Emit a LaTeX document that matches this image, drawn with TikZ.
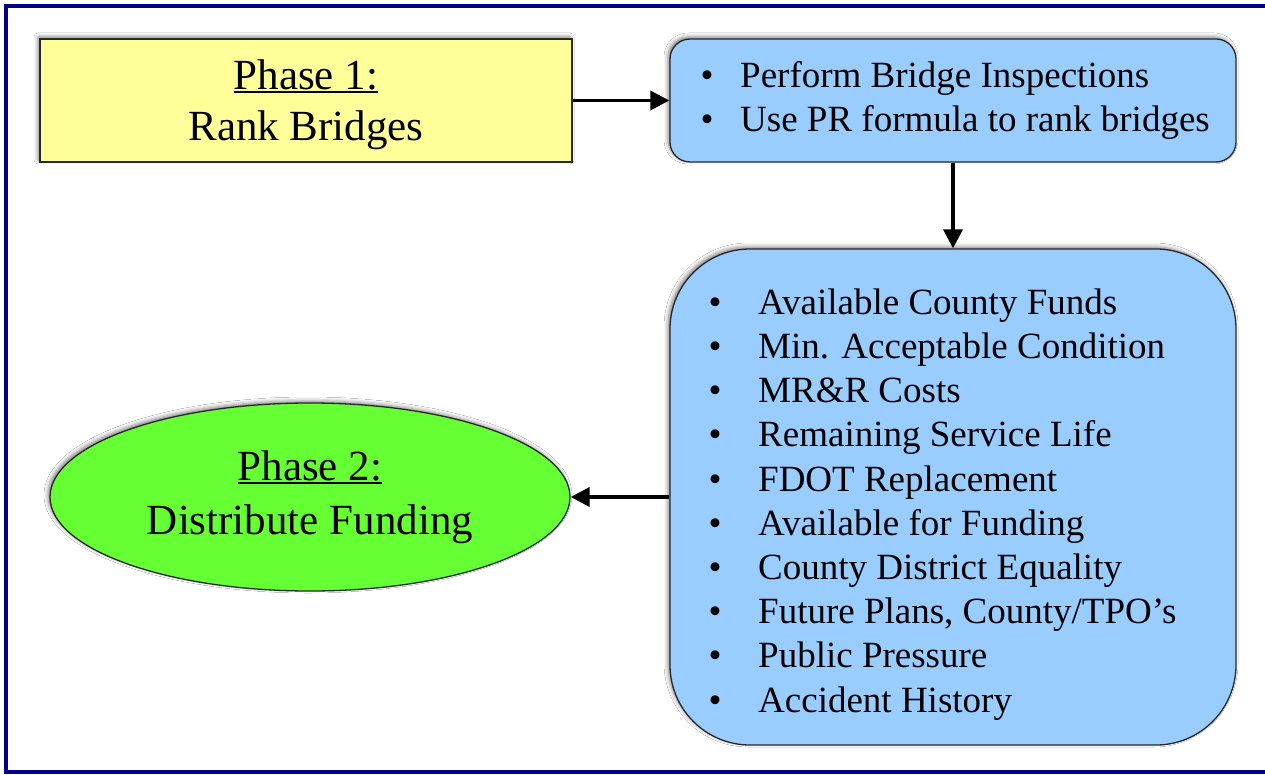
\documentclass[tikz,border=0pt]{standalone}
\usepackage{fontspec}
\setmainfont{Liberation Serif}
\usetikzlibrary{arrows.meta,shapes.geometric,shadows.blur}

\definecolor{framenavy}{RGB}{0,0,140}
\definecolor{phaseyellow}{RGB}{255,255,153}
\definecolor{listblue}{RGB}{153,204,255}
\definecolor{phasegreen}{RGB}{102,255,51}
\definecolor{edgegray}{RGB}{40,40,40}

% underlined phase heading with a rule of fixed weight
\newcommand\phaseul[1]{\setbox0\hbox{#1}\rlap{\rule[-4pt]{\wd0}{2.2pt}}\box0}
% bullet set in a box of given width so that item texts line up
\newcommand\itm[1]{\makebox[#1][l]{\textbullet}}

\tikzset{
  shapeshadow/.style={blur shadow={shadow xshift=-2pt, shadow yshift=2pt,
      shadow blur radius=4pt, shadow opacity=50}},
  phasebox/.style={draw=edgegray, line width=1.3pt, fill=phaseyellow,
      inner sep=0pt, shapeshadow},
  listbox/.style={draw=edgegray, line width=1.3pt, fill=listblue,
      inner sep=0pt, shapeshadow},
  fundshape/.style={ellipse, draw=edgegray, line width=1.3pt, fill=phasegreen,
      inner sep=0pt, shapeshadow},
  phasetext/.style={font=\fontsize{43}{51}\selectfont, align=center,
      inner sep=0pt, anchor=north},
  listtext/.style={font=\fontsize{37}{44.2}\selectfont, align=left,
      inner sep=0pt, anchor=north west},
  flow/.style={line width=3.5pt, -{Triangle[length=19pt,width=19pt]}},
}

\begin{document}
\begin{tikzpicture}[x=1pt, y=-1pt]
\useasboundingbox (0,0) rectangle (1265,775);
\fill[white] (0,0) rectangle (1265,775);

% outer frame, open on the right
\draw[framenavy, line width=4pt] (1265,6) -- (6,6) -- (6,772) -- (1265,772);

% Phase 1 box
\node[phasebox, minimum width=532, minimum height=123] (rank) at (306,100.5) {};
\node[phasetext] (rank label) at (306,57)
  {\rule{0pt}{32pt}\phaseul{Phase 1:}\\Rank Bridges};

% inspection box
\node[listbox, rounded corners=20pt, minimum width=566, minimum height=123]
  (insp) at (953,100.5) {};
\node[listtext] (insp items) at (700.5,59)
  {\rule{0pt}{28pt}\itm{39.5pt}Perform Bridge Inspections\\
   \itm{39.5pt}Use PR formula to rank bridges};

% funding criteria box
\node[listbox, rounded corners=80pt, minimum width=566, minimum height=496]
  (factors) at (953,497) {};
\node[listtext] (factor items) at (708.5,286)
  {\rule{0pt}{28pt}\itm{49.5pt}Available County Funds\\
   \itm{49.5pt}Min. Acceptable Condition\\
   \itm{49.5pt}MR\&R Costs\\
   \itm{49.5pt}Remaining Service Life\\
   \itm{49.5pt}FDOT Replacement\\
   \itm{49.5pt}Available for Funding\\
   \itm{49.5pt}County District Equality\\
   \itm{49.5pt}Future Plans, County/TPO’s\\
   \itm{49.5pt}Public Pressure\\
   \itm{49.5pt}Accident History};

% Phase 2 ellipse
\node[fundshape, minimum width=520, minimum height=188] (fund) at (310,497) {};
\node[phasetext, font=\fontsize{43}{54}\selectfont] (fund label) at (310,448)
  {\rule{0pt}{32pt}\phaseul{Phase 2:}\\Distribute Funding};

% connectors
\draw[flow] (rank.east) -- (insp.west);
\draw[flow] (insp.south) -- (factors.north);
\draw[flow] (factors.west) -- (fund.east);
\end{tikzpicture}
\end{document}
